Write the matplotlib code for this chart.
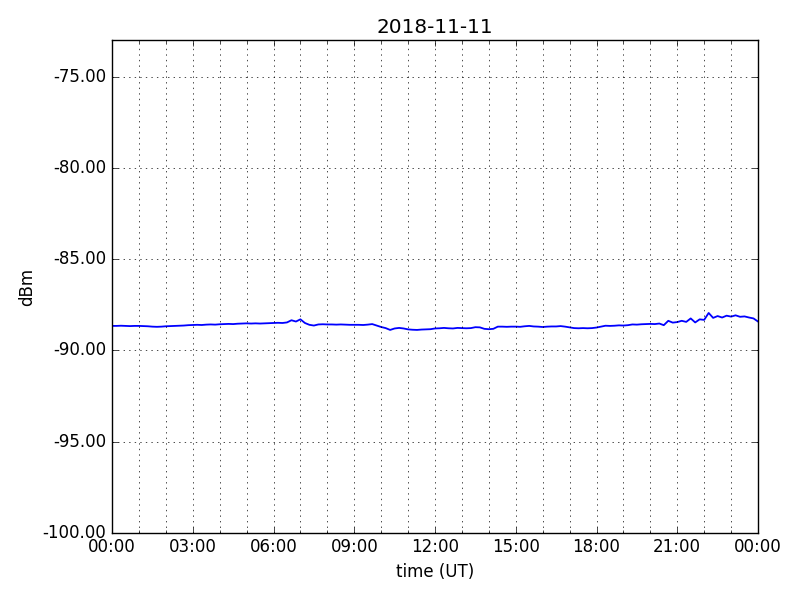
import numpy as np
import matplotlib
matplotlib.use("Agg")
import matplotlib.pyplot as plt
import matplotlib.dates as mdates
from matplotlib.ticker import FormatStrFormatter, MultipleLocator

plt.style.use("classic")

title = "2018-11-11"
start = np.datetime64("2018-11-11T00:00")
step_minutes = 10

dbm = [
    -88.66, -88.66, -88.65, -88.66, -88.67, -88.66, -88.66, -88.67, -88.68, -88.70, -88.71, -88.70,
    -88.68, -88.67, -88.66, -88.65, -88.64, -88.62,
    -88.61, -88.60, -88.61, -88.59, -88.58, -88.59, -88.57, -88.56, -88.55, -88.56, -88.54, -88.53,
    -88.52, -88.53, -88.52, -88.53, -88.52, -88.51,
    -88.50, -88.49, -88.50, -88.47, -88.35, -88.42, -88.30, -88.50, -88.60, -88.64, -88.58, -88.57,
    -88.58, -88.58, -88.59, -88.58, -88.59, -88.60,
    -88.60, -88.60, -88.61, -88.59, -88.56, -88.64, -88.72, -88.78, -88.88, -88.80, -88.77, -88.80,
    -88.85, -88.87, -88.88, -88.86, -88.85, -88.84,
    -88.80, -88.79, -88.77, -88.79, -88.80, -88.77, -88.78, -88.79, -88.78, -88.73, -88.74, -88.82,
    -88.84, -88.82, -88.70, -88.70, -88.71, -88.70,
    -88.70, -88.71, -88.68, -88.66, -88.69, -88.70, -88.72, -88.70, -88.69, -88.69, -88.67, -88.70,
    -88.74, -88.78, -88.79, -88.78, -88.79, -88.78,
    -88.75, -88.70, -88.65, -88.66, -88.65, -88.63, -88.64, -88.62, -88.58, -88.59, -88.57, -88.56,
    -88.55, -88.56, -88.53, -88.62, -88.38, -88.48,
    -88.45, -88.38, -88.44, -88.25, -88.47, -88.30, -88.33, -87.95, -88.22, -88.12, -88.20, -88.10,
    -88.15, -88.08, -88.16, -88.14, -88.20, -88.25, -88.42,
]

times = start + np.arange(len(dbm)) * np.timedelta64(step_minutes, "m")
times = times.astype("datetime64[s]").astype(object)

fig = plt.figure(figsize=(8, 6), dpi=100, facecolor="white")
ax = fig.add_subplot(111)
ax.plot(times, dbm, color="blue", linewidth=1.3)

ax.set_xlim(np.datetime64("2018-11-11T00:00").astype(object),
            np.datetime64("2018-11-12T00:00").astype(object))
ax.set_ylim(-100, -73)
ax.yaxis.set_major_locator(MultipleLocator(5))
ax.yaxis.set_major_formatter(FormatStrFormatter("%.2f"))
ax.xaxis.set_major_locator(mdates.HourLocator(byhour=range(0, 24, 3)))
ax.xaxis.set_minor_locator(mdates.HourLocator())
ax.xaxis.set_major_formatter(mdates.DateFormatter("%H:%M"))

ax.grid(True, which="major", linestyle=":", color="black", linewidth=0.5)
ax.xaxis.grid(True, which="minor", linestyle=":", color="black", linewidth=0.5)

ax.set_title(title)
ax.set_xlabel("time (UT)")
ax.set_ylabel("dBm")

fig.subplots_adjust(left=0.14, right=0.9475, bottom=0.112, top=0.933)
fig.savefig("out.png", dpi=100, facecolor="white")
